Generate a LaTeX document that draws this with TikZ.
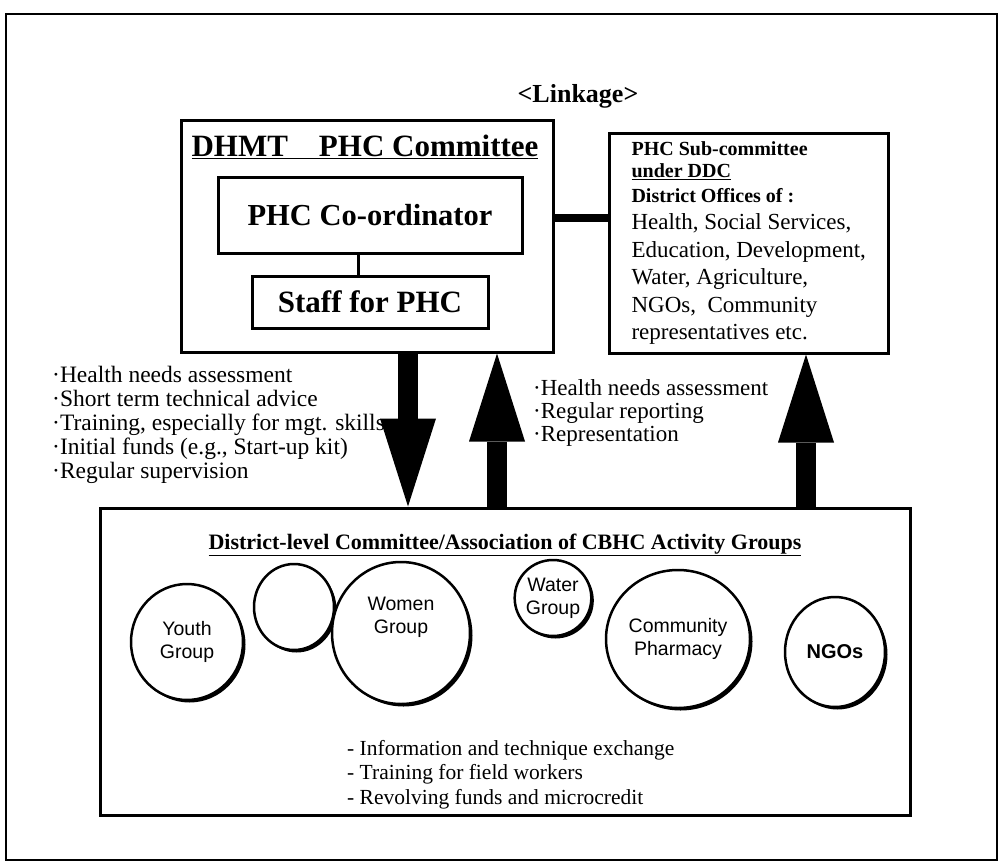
\documentclass[tikz,border=0pt]{standalone}
\usepackage{fontspec}
\setmainfont{Liberation Serif}
\newfontfamily\grpfont{Liberation Sans}
\usetikzlibrary{arrows.meta,shapes.geometric,shadows}

\tikzset{
  box/.style={draw, line width=3pt, inner sep=0pt},
  grp/.style={draw, ellipse, line width=2.5pt, inner sep=0pt, align=center, fill=white,
    drop shadow={shadow xshift=2.5pt, shadow yshift=-2.5pt, fill=black, opacity=1},
    font=\grpfont\fontsize{19.5}{23}\selectfont},
  bigarrow/.style={line width=20pt, -{Triangle[width=56pt,length=88pt,line width=0pt]}},
  note/.style={anchor=north west, align=left, inner sep=0pt}
}

\begin{document}
\begin{tikzpicture}[x=1pt,y=-1pt]
  \useasboundingbox (0,0) rectangle (1004,867);
  \draw [line width=2pt] (6,14) rectangle (997,860);
  \node (linkage) at (578,96) {\fontsize{26}{30}\selectfont\bfseries <Linkage>};

  % DHMT side
  \node [box, minimum width=372pt, minimum height=232pt] (dhmt) at (367,236) {};
  \node (dhmttitle) at (365,147) {\fontsize{31}{34}\selectfont\bfseries\underline{DHMT\quad PHC Committee}};
  \node [box, minimum width=304pt, minimum height=76pt, font=\fontsize{30.5}{34}\selectfont\bfseries] (coord) at (370,215) {PHC Co-ordinator};
  \node [box, minimum width=236pt, minimum height=52pt, font=\fontsize{31}{34}\selectfont\bfseries] (staff) at (370,302) {Staff for PHC};
  \coordinate (tie) at (358,265);
  \draw [line width=3pt] (coord.south -| tie) -- (staff.north -| tie);

  % DDC side
  \node [box, line width=2.5pt, anchor=north west, align=left, inner xsep=8pt, inner ysep=2pt,
    minimum width=279pt, minimum height=220pt, font=\fontsize{23}{27.5}\selectfont] (ddc) at (608,132)
    {{\fontsize{20}{24}\selectfont\bfseries PHC Sub-committee}\\[-5pt]
     {\fontsize{20}{24}\selectfont\bfseries\underline{under DDC}}\\[-3pt]
     {\fontsize{20}{24}\selectfont\bfseries District Offices of :}\\
     Health, Social Services,\\
     Education, Development,\\
     Water, Agriculture,\\
     NGOs,\ \ Community\\
     representatives etc.};
  \coordinate (linky) at (580,218);
  \draw [line width=8pt] (dhmt.east |- linky) -- (ddc.west |- linky);

  % activity groups
  \node [box, minimum width=810pt, minimum height=307pt] (cbhc) at (505,661.5) {};
  \node (cbhctitle) at (505,545) {\fontsize{22}{26}\selectfont\bfseries\underline{District-level Committee/Association of CBHC Activity Groups}};
  \node [grp, minimum width=112pt, minimum height=116pt] (youth) at (187,642) {Youth\\Group};
  \node [grp, minimum width=80pt, minimum height=86pt] (other) at (294,607) {};
  \node [grp, minimum width=138pt, minimum height=142pt] (women) at (401,633) {Women\\Group\\[12pt]};
  \node [grp, minimum width=74pt, minimum height=76pt] (water) at (553,598) {Water\\Group};
  \node [grp, minimum width=144pt, minimum height=138pt] (pharmacy) at (678,639) {Community\\Pharmacy};
  \node [grp, minimum width=100pt, minimum height=110pt, font=\grpfont\fontsize{20}{23}\selectfont\bfseries] (ngos) at (835,652) {NGOs};
  \node [note, font=\fontsize{21.5}{24.5}\selectfont] (cbhcnotes) at (347,740)
    {- Information and technique exchange\\
     - Training for field workers\\
     - Revolving funds and microcredit};

  % arrows
  \coordinate (downx) at (408,0);
  \coordinate (upx) at (497,0);
  \coordinate (ddcx) at (806,0);
  \draw [bigarrow] (dhmt.south -| downx) -- (cbhc.north -| downx);
  \draw [bigarrow] (cbhc.north -| upx) -- (dhmt.south -| upx);
  \draw [bigarrow] (cbhc.north -| ddcx) -- (ddc.south -| ddcx);
  \node [note, font=\fontsize{23.5}{24}\selectfont] (downnotes) at (52,366)
    {·Health needs assessment\\
     ·Short term technical advice\\
     ·Training, especially for mgt. skills\\
     ·Initial funds (e.g., Start-up kit)\\
     ·Regular supervision};
  \node [note, font=\fontsize{23}{23}\selectfont] (upnotes) at (533,379)
    {·Health needs assessment\\
     ·Regular reporting\\
     ·Representation};
\end{tikzpicture}
\end{document}
